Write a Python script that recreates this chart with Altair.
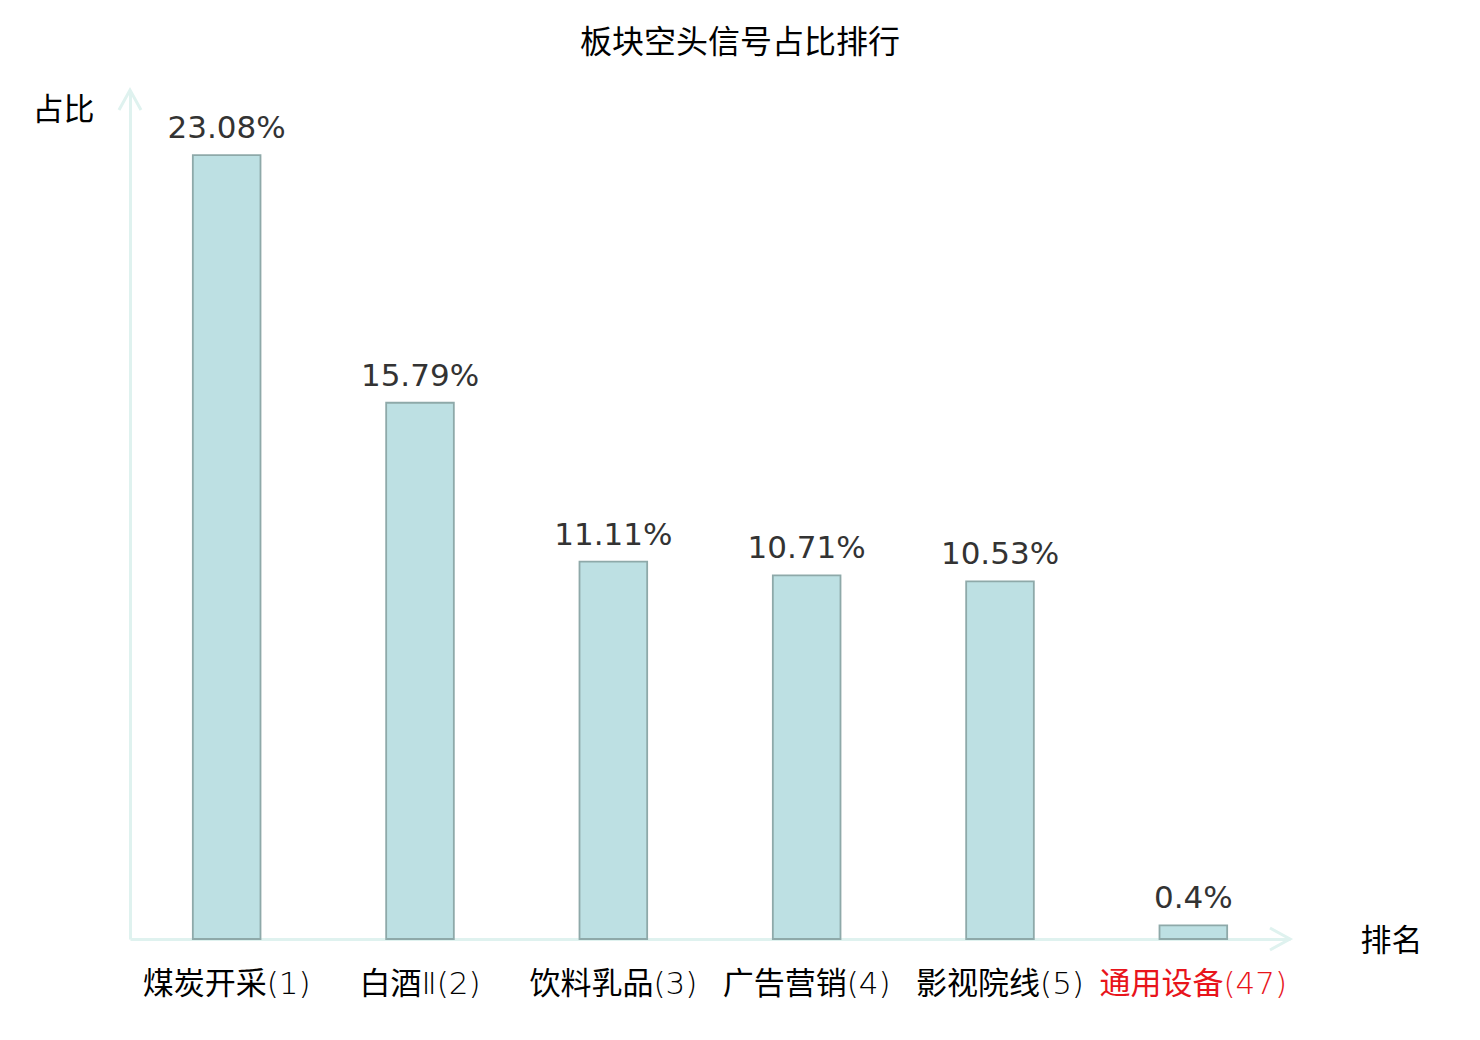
import altair as alt
import pandas as pd

categories = ["煤炭开采(1)", "白酒Ⅱ(2)", "饮料乳品(3)", "广告营销(4)", "影视院线(5)", "通用设备(47)"]
values = [23.08, 15.79, 11.11, 10.71, 10.53, 0.4]
value_labels = ["23.08%", "15.79%", "11.11%", "10.71%", "10.53%", "0.4%"]
highlight = "通用设备(47)"

df = pd.DataFrame({"cat": categories, "v": values, "lab": value_labels})

AXIS_COLOR = "#dff2ef"
CJK = "Noto Sans CJK SC"
MIX = "'DejaVu Sans ExtraLight', 'DejaVu Sans Light', 'Noto Sans CJK SC'"
W, H = 1160, 849

x_enc = alt.X("cat:N", sort=categories,
              scale=alt.Scale(paddingInner=0.65, paddingOuter=0.325),
              axis=alt.Axis(title="排名", titleAngle=0, titleX=1261, titleY=2,
                            titleAlign="center", titleBaseline="middle",
                            titleFont=CJK, titleFontSize=31, titleFontWeight="normal",
                            titleColor="black",
                            labelFont=MIX, labelFontSize=31, labelAngle=0, labelLimit=400,
                            labelOverlap=False,
                            labelColor=alt.expr(f"datum.value == '{highlight}' ? '#e8141b' : 'black'"),
                            labelBaseline="middle", labelPadding=45, ticks=False, tickSize=0,
                            domainColor=AXIS_COLOR, domainWidth=3))
y_enc = alt.Y("v:Q", scale=alt.Scale(domain=[0, 25], nice=False),
              axis=alt.Axis(title="占比", titleAngle=0, titleX=-67, titleY=20,
                            titleAlign="center", titleBaseline="middle",
                            titleFont=CJK, titleFontSize=31, titleFontWeight="normal",
                            titleColor="black",
                            labels=False, ticks=False, tickSize=0, grid=False,
                            domainColor=AXIS_COLOR, domainWidth=3))

bars = alt.Chart(df).mark_bar(fill="#bde0e3", stroke="#8ea9a9", strokeWidth=1.8).encode(
    x=x_enc, y=y_enc)

texts = alt.Chart(df).mark_text(font="DejaVu Sans", fontSize=31, color="#333333",
                                baseline="alphabetic", dy=-17).encode(
    x=alt.X("cat:N", sort=categories), y="v:Q", text="lab:N")

up_arrow = alt.Chart(df.head(1)).mark_point(
    shape="M-0.55,1 L0,0 L0.55,1", size=1600, filled=False,
    stroke=AXIS_COLOR, strokeWidth=3, opacity=1).encode(
    x=alt.value(0), y=alt.datum(25))

right_arrow = alt.Chart(df.head(1)).mark_point(
    shape="M-1,-0.55 L0,0 L-1,0.55", size=1600, filled=False,
    stroke=AXIS_COLOR, strokeWidth=3, opacity=1).encode(
    x=alt.value(W), y=alt.datum(0))

chart = alt.layer(bars, texts, up_arrow, right_arrow).properties(
    width=W, height=H,
    background="white",
    title=alt.TitleParams("板块空头信号占比排行", font=CJK, fontSize=32,
                          fontWeight="normal", color="black", anchor="middle",
                          dx=30, offset=24),
    autosize=alt.AutoSizeParams(type="none"),
    padding={"left": 122, "top": 82, "right": 160, "bottom": 80},
).configure_view(strokeWidth=0, stroke="transparent")

chart.save("out.html", embed_options={"renderer": "svg", "actions": False})
